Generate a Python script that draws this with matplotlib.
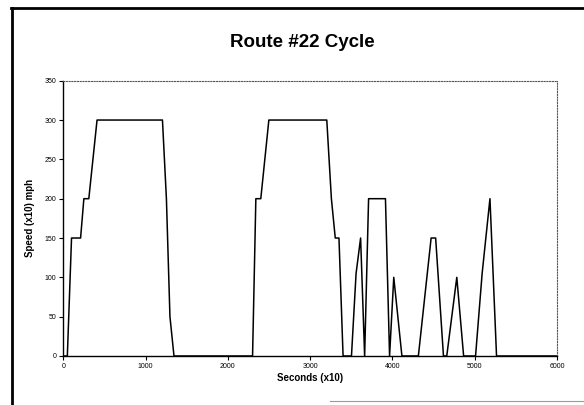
import matplotlib.pyplot as plt
from matplotlib.lines import Line2D

plt.rcParams['font.family'] = ['Liberation Sans', 'DejaVu Sans']

# time in seconds (x10), speed in mph (x10)
seconds = [0, 49, 100, 210, 250, 310, 410, 1205, 1253, 1296, 1345,
           2300, 2340, 2400, 2498, 3202, 3258, 3305, 3350, 3400,
           3502, 3558, 3613, 3662, 3710, 3915, 3965, 4016, 4115,
           4315, 4470, 4525, 4620, 4660, 4782, 4865,
           5010, 5090, 5185, 5265, 6000]
speed = [0, 0, 150, 150, 200, 200, 300, 300, 200, 50, 0,
         0, 200, 200, 300, 300, 200, 150, 150, 0,
         0, 105, 150, 0, 200, 200, 0, 100, 0,
         0, 150, 150, 0, 0, 100, 0,
         0, 105, 200, 0, 0]
x_ticks = [0, 1000, 2000, 3000, 4000, 5000, 6000]
y_ticks = [0, 50, 100, 150, 200, 250, 300, 350]

fig = plt.figure(figsize=(5.84, 4.05), dpi=100)
ax = fig.add_axes([0.1084, 0.121, 0.8454, 0.6797])

ax.plot(seconds, speed, color='black', linewidth=1.1)

ax.set_xlim(0, 6000)
ax.set_ylim(0, 350)
ax.set_xticks(x_ticks)
ax.set_yticks(y_ticks)
ax.tick_params(labelsize=5, length=3, width=0.8, pad=2)

for side in ['top', 'right']:
    ax.spines[side].set_linestyle((0, (1, 1.5)))
    ax.spines[side].set_color('#555555')
    ax.spines[side].set_linewidth(0.8)
for side in ['left', 'bottom']:
    ax.spines[side].set_linewidth(1.0)

ax.set_xlabel('Seconds (x10)', fontsize=7, fontweight='bold', labelpad=2)
ax.set_ylabel('Speed (x10) mph', fontsize=7, fontweight='bold', labelpad=7)
fig.text(0.517, 0.896, 'Route #22 Cycle', ha='center', va='center',
         fontsize=13.5, fontweight='bold')

# outer chart frame
fig.add_artist(Line2D([11.5 / 584, 11.5 / 584], [0, 1 - 8 / 405],
                      color='black', linewidth=2, transform=fig.transFigure))
fig.add_artist(Line2D([11 / 584, 1], [1 - 8 / 405, 1 - 8 / 405],
                      color='black', linewidth=2, transform=fig.transFigure))
fig.add_artist(Line2D([330 / 584, 1], [1 - 401 / 405, 1 - 401 / 405],
                      color='#999999', linewidth=0.8, transform=fig.transFigure))

fig.savefig('out.png', dpi=100)
